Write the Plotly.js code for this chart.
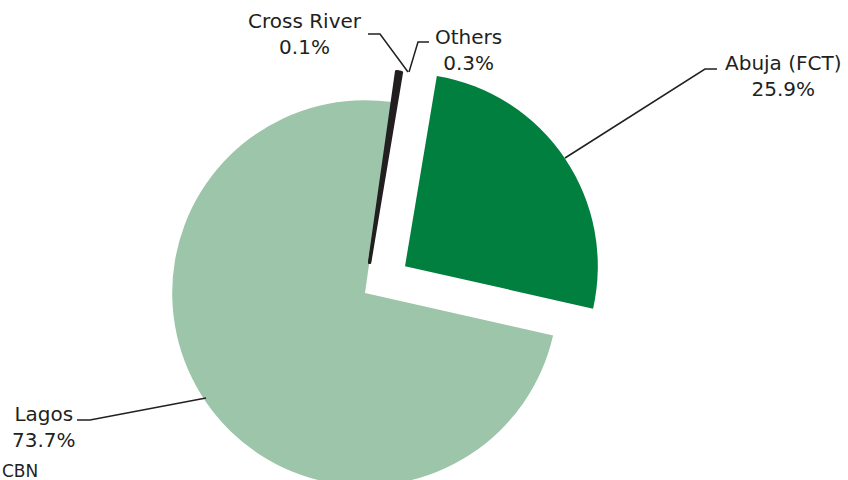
<!DOCTYPE html>
<html>
<head>
<meta charset="utf-8">
<script src="https://cdn.plot.ly/plotly-3.0.1.min.js"></script>
<style>
html, body { margin: 0; padding: 0; overflow: hidden; background: #fff; }
#chart { width: 848px; height: 560px; }
</style>
</head>
<body>
<div id="chart"></div>
<script>
// Data
const labels = ["Abuja (FCT)", "Lagos", "Cross River", "Others"];
const values = [25.9, 73.7, 0.1, 0.3];
const colors = ["#007F3E", "#9CC5A9", "#231F20", "#231F20"];
const pulls = [0.25, 0, 0.16, 0.16];
const sourceText = "CBN";

// Layout geometry (pixels)
const W = 848, H = 560, MT = 52, MB = 26;
const PH = H - MT - MB;
const px = x => x / W;
const py = y => 1 - (y - MT) / PH;

// label placement (pixels) and leader paths (pixels)
const labelPos = [
  {x: 783, y: 76},
  {x: 44, y: 427},
  {x: 305, y: 34},
  {x: 468, y: 50}
];
const leaders = [
  [[717, 69], [705, 69], [565, 158]],
  [[77, 420], [90, 420], [206, 398]],
  [[368, 34], [380, 34], [408, 72]],
  [[429, 42], [418, 42], [409, 72]]
];

const font = {family: "DejaVu Sans", size: 20, color: "#231F20"};

const annotations = labels.map((l, i) => ({
  xref: "paper", yref: "paper",
  x: px(labelPos[i].x), y: py(labelPos[i].y),
  xanchor: "center", yanchor: "middle",
  text: l + "<br>" + values[i].toFixed(1) + "%",
  showarrow: false, font: font, align: "center"
}));
annotations.push({
  xref: "paper", yref: "paper",
  x: px(0), y: py(471), xanchor: "left", yanchor: "middle",
  text: sourceText, showarrow: false, font: Object.assign({}, font, {size: 17})
});

const shapes = leaders.map(pts => ({
  type: "path", xref: "paper", yref: "paper",
  path: pts.map((p, j) => (j ? "L" : "M") + px(p[0]) + "," + py(p[1])).join(" "),
  line: {color: "#231F20", width: 1.5}
}));

const trace = {
  type: "pie",
  labels: labels,
  values: values,
  sort: false,
  direction: "clockwise",
  rotation: 9.5,
  pull: pulls,
  textinfo: "none",
  hoverinfo: "label+percent",
  marker: {colors: colors, line: {color: ["#fff", "#fff", "#231F20", "#231F20"], width: [0, 0, 3, 3]}},
  domain: {x: [0, 2 * 365 / W], y: [0, 1]}
};

Plotly.newPlot("chart", [trace], {
  width: W, height: H,
  margin: {l: 0, r: 0, t: MT, b: MB},
  paper_bgcolor: "#ffffff",
  showlegend: false,
  annotations: annotations,
  shapes: shapes,
  font: font
}, {displayModeBar: false, staticPlot: true});
</script>
</body>
</html>
